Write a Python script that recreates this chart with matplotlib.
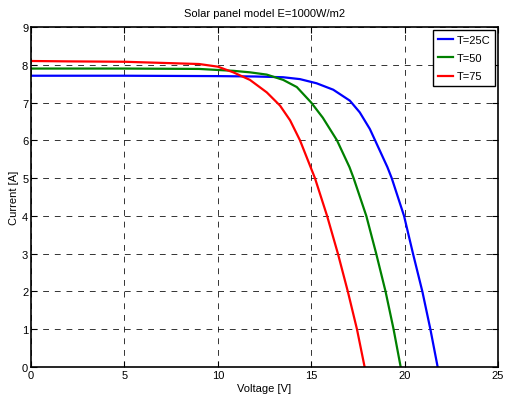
import matplotlib
matplotlib.use("Agg")
import matplotlib.pyplot as plt

plt.rcParams['font.family'] = ['Liberation Sans', 'DejaVu Sans']

# T=25C
v25 = [0, 5, 10, 12, 13.5, 14.4, 15.29, 16.18, 17.07, 17.6, 18.14, 18.42, 19.08, 19.31, 19.97, 20.45, 20.95, 21.38, 21.77]
i25 = [7.71, 7.71, 7.70, 7.69, 7.67, 7.62, 7.51, 7.34, 7.05, 6.74, 6.30, 6.0, 5.29, 5.0, 4.0, 3.0, 2.0, 1.0, 0.0]
# T=50
v50 = [0, 5, 9, 10.83, 11.72, 12.62, 13.5, 14.23, 15.0, 15.62, 16.38, 17.05, 17.27, 17.95, 18.48, 18.98, 19.41, 19.79]
i50 = [7.90, 7.90, 7.89, 7.84, 7.80, 7.74, 7.60, 7.41, 7.0, 6.6, 6.0, 5.29, 5.0, 4.0, 3.0, 2.0, 1.0, 0.0]
# T=75
v75 = [0, 2, 5, 9, 10, 10.83, 11.72, 12.62, 13.33, 13.87, 14.4, 15.2, 15.85, 16.43, 16.96, 17.45, 17.86]
i75 = [8.10, 8.09, 8.08, 8.02, 7.95, 7.80, 7.60, 7.27, 6.92, 6.53, 6.0, 5.0, 4.0, 3.0, 2.0, 1.0, 0.0]

labels = ['T=25C', 'T=50', 'T=75']
colors = ['#0000ff', '#008000', '#ff0000']

fig = plt.figure(figsize=(5.06, 4.02), dpi=100)
ax = fig.add_axes([31/506, 34/402, 467/506, 340/402])

for v, i, lab, c in zip([v25, v50, v75], [i25, i50, i75], labels, colors):
    ax.plot(v, i, color=c, lw=1.6, label=lab)

ax.set_xlim(0, 25)
ax.set_ylim(0, 9)
ax.set_xticks(range(0, 26, 5))
ax.set_yticks(range(0, 10))
ax.tick_params(direction='in', length=4, labelsize=8, pad=2, top=True, right=True,
               labeltop=False, labelright=False)
ax.grid(True, color='black', linestyle=(0, (6, 6)), lw=0.7, alpha=0.8)
for s in ax.spines.values():
    s.set_linewidth(1.2)
ax.set_title('Solar panel model E=1000W/m2', fontsize=8, pad=8)
ax.set_xlabel('Voltage [V]', fontsize=8, labelpad=2)
ax.set_ylabel('Current [A]', fontsize=8, labelpad=2)
leg = ax.legend(loc='upper right', fontsize=8, fancybox=False, framealpha=1,
                edgecolor='black', handlelength=1.4, borderaxespad=0.3,
                handletextpad=0.3, labelspacing=0.75, borderpad=0.4)
leg.get_frame().set_linewidth(1.0)

fig.savefig('out.png', dpi=100)
